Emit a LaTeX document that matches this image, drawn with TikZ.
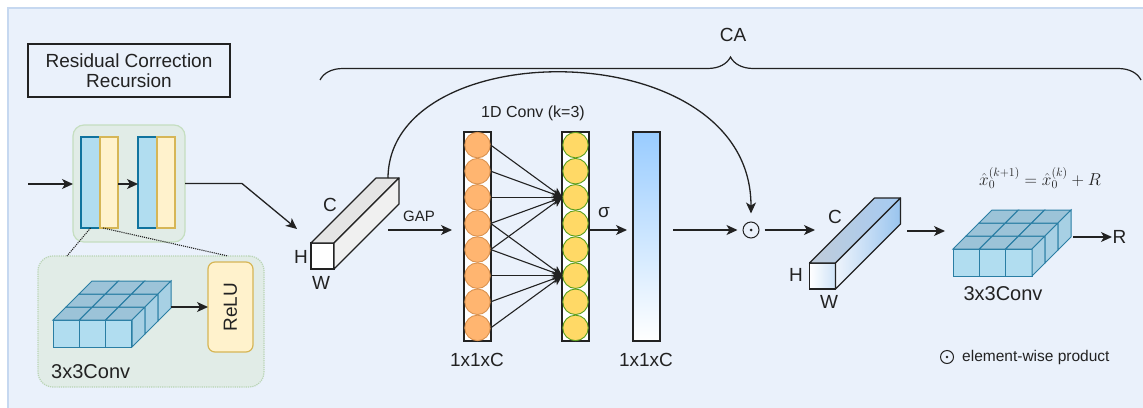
\documentclass[tikz,border=0pt]{standalone}
\usepackage{fontspec}
\setmainfont{Liberation Sans}
\usetikzlibrary{arrows.meta,decorations.pathreplacing,shapes.geometric}
\definecolor{bg}{HTML}{EAF1FB}
\definecolor{bgline}{HTML}{C6D8F0}
\definecolor{grnfill}{HTML}{E1ECE7}
\definecolor{grnline}{HTML}{C5DEC0}
\definecolor{grndot}{HTML}{B9D4B4}
\definecolor{bluefill}{HTML}{B1DDF0}
\definecolor{blueline}{HTML}{10739E}
\definecolor{yelfill}{HTML}{FFF2CC}
\definecolor{yelline}{HTML}{D6B656}
\definecolor{cubtop}{HTML}{9CC3D8}
\definecolor{cubright}{HTML}{A7D0E4}
\definecolor{cubline}{HTML}{2A7EA4}
\definecolor{orfill}{HTML}{FFB570}
\definecolor{orline}{HTML}{D99250}
\definecolor{ylfill}{HTML}{FFD966}
\definecolor{ylline}{HTML}{5A9E1E}
\definecolor{ink}{HTML}{222222}
\definecolor{barblue}{HTML}{99CCFF}
\definecolor{grey1}{HTML}{E4E4E4}
\definecolor{grey2}{HTML}{F0F0F0}
\definecolor{cubgr}{HTML}{CFE3F7}
\definecolor{topg1}{HTML}{C0CCDA}
\definecolor{topg2}{HTML}{A5CBF2}
\definecolor{rg1}{HTML}{EEF4FC}
\definecolor{rg2}{HTML}{99C4EE}
\tikzset{
  arr/.style={-{Stealth[length=11pt,width=10pt,inset=3pt]}, line width=1.3pt, draw=ink},
  carr/.style={-{Stealth[length=10pt,width=9pt,inset=2.5pt]}, line width=1.1pt, draw=ink},
  fs/.style={font=\fontsize{#1}{#1}\selectfont, text=ink},
  lbl/.style={inner sep=0pt, fs=19},
  convblk/.pic={
    \foreach \i in {0,1,2} {
      \draw[cubline, fill=bluefill, line width=1pt] ({\i*26.33},0) rectangle ({(\i+1)*26.33},-27);
    }
    \foreach \r in {0,1,2} {
      \foreach \c in {0,1,2} {
        \draw[cubline, fill=cubtop, line width=1pt]
          ({\c*26.33+\r*13},{-27-\r*13}) -- ({(\c+1)*26.33+\r*13},{-27-\r*13})
          -- ({(\c+1)*26.33+(\r+1)*13},{-27-(\r+1)*13}) -- ({\c*26.33+(\r+1)*13},{-27-(\r+1)*13}) -- cycle;
      }
      \draw[cubline, fill=cubright, line width=1pt]
        ({79+\r*13},{-\r*13}) -- ({79+\r*13},{-27-\r*13})
        -- ({79+(\r+1)*13},{-27-(\r+1)*13}) -- ({79+(\r+1)*13},{-(\r+1)*13}) -- cycle;
    }
  }
}
\begin{document}
\begin{tikzpicture}[x=1pt,y=-1pt]
\useasboundingbox (0,0) rectangle (1143,407);
\clip (0,0) rectangle (1143,407);
\fill[white] (0,0) rectangle (1143,407);
\draw[bgline, fill=bg, line width=1.5pt] (8,8) rectangle (1160,420);

% Title box
\node[draw=ink, line width=1.2pt, minimum width=202pt, minimum height=53pt, align=center, fs=19, outer sep=0pt] (title) at (129,70.5) {Residual Correction\\[1pt]Recursion};

% residual block
\node[draw=grnline, fill=grnfill, rounded corners=11pt, line width=1.2pt, minimum width=112pt, minimum height=117pt, outer sep=0pt] (box1) at (129,183.5) {};
\node[draw=blueline, fill=bluefill, line width=1.1pt, minimum width=19pt, minimum height=91pt, inner sep=0, outer sep=0pt] (b1) at (90.5,182.5) {};
\node[draw=yelline, fill=yelfill, line width=1.1pt, minimum width=18pt, minimum height=91pt, inner sep=0, outer sep=0pt] (c1) at (109,182.5) {};
\node[draw=blueline, fill=bluefill, line width=1.1pt, minimum width=19pt, minimum height=91pt, inner sep=0, outer sep=0pt] (b2) at (147.5,182.5) {};
\node[draw=yelline, fill=yelfill, line width=1.1pt, minimum width=18pt, minimum height=91pt, inner sep=0, outer sep=0pt] (c2) at (166,182.5) {};
\coordinate (in) at (28,184);
\draw[arr] (in) -- (box1.west |- in);
\draw[arr] (c1.east |- in) -- (b2.west |- in);

% zoom box
\node[draw=grndot, fill=grnfill, densely dotted, rounded corners=15pt, line width=1.2pt, minimum width=226pt, minimum height=131pt, outer sep=0pt] (box2) at (151,321.5) {};
\coordinate (z1) at (67,256);
\coordinate (z2) at (228,256);
\draw[ink, densely dotted, line width=1.1pt] (b1.south) -- (z1);
\draw[ink, densely dotted, line width=1.1pt] ([xshift=3pt]c1.south west) -- (z2);
\pic at (53,347) {convblk};
\coordinate (conv1out) at (171,307);
\node[draw=yelline, fill=yelfill, rounded corners=7pt, line width=1.2pt, rotate=90, minimum width=90pt, minimum height=45pt, fs=19, outer sep=0pt] (relu) at (230.5,307) {ReLU};
\draw[arr] (conv1out) -- (relu.north);
\node[anchor=west, fs=20, inner sep=0pt] (lbl3a) at (51,372) {3x3Conv};

% cuboid A
\node[draw=ink, fill=white, line width=1.2pt, minimum width=23pt, minimum height=26pt, inner sep=0, outer sep=0pt] (cubA) at (322.5,256) {};
\draw[ink, fill=grey1, line width=1.2pt, line join=round] (cubA.north west) -- (cubA.north east) -- ++(65,-65) -- ++(-23,0) -- cycle;
\draw[ink, fill=grey2, line width=1.2pt, line join=round] (cubA.north east) -- ++(65,-65) -- ++(0,26) -- (cubA.south east) -- cycle;
\node[lbl] at (330,205) {C};
\node[lbl] at (301,257) {H};
\node[lbl] at (321,283) {W};
\coordinate (cubAin) at (297,229);
\draw[arr] (box1.east) -- (242,183.5) -- (cubAin);
\coordinate (cubAtop) at ([xshift=77pt,yshift=65pt]cubA.north west);

% GAP
\node[draw=ink, fill=white, line width=1.2pt, minimum width=27pt, minimum height=209pt, inner sep=0, outer sep=0pt] (orcol) at (477.5,236.5) {};
\node[draw=ink, fill=white, line width=1.2pt, minimum width=27pt, minimum height=209pt, inner sep=0, outer sep=0pt] (ylcol) at (575.5,236.5) {};
\foreach \i in {1,...,8} {
  \node[circle, draw=orline, fill=orfill, minimum size=25.5pt, inner sep=0, line width=0.9pt] (o\i) at (477.5,{132+13.06+26.12*(\i-1)}) {};
  \node[circle, draw=ylline, fill=ylfill, minimum size=25.5pt, inner sep=0, line width=0.9pt] (y\i) at (575.5,{132+13.06+26.12*(\i-1)}) {};
}
\foreach \i in {1,...,5} { \draw[carr] (o\i.east) -- (y3.west); }
\foreach \i in {4,...,8} { \draw[carr] (o\i.east) -- (y6.west); }
\coordinate (gapS) at (388,230);
\draw[arr, shorten >=12pt] (gapS) -- (orcol.west |- gapS);
\node[inner sep=0, fs=15] at (419,216) {GAP};
\node[inner sep=0, fs=16] at (533,113) {1D Conv (k=3)};
\node[inner sep=0, fs=19] at (477,360) {1x1xC};

% sigma + bar
\node[draw=ink, top color=barblue, bottom color=white, line width=1.2pt, minimum width=27pt, minimum height=209pt, inner sep=0, outer sep=0pt] (bar) at (646.5,236.5) {};
\draw[arr, shorten >=6pt] (ylcol.east |- gapS) -- (bar.west |- gapS);
\node[inner sep=0, fs=19] at (604,213) {σ};
\node[inner sep=0, fs=19] at (646,360) {1x1xC};

% product
\node[circle, draw=ink, minimum size=16pt, inner sep=0, line width=1pt] (odot) at (751,230) {};
\fill[ink] (odot.center) circle (1.5pt);
\draw[arr, shorten >=5pt] ([xshift=13pt]bar.east |- gapS) -- (odot.west);
\draw[arr, shorten >=8pt] (cubAtop) .. controls (389,32) and (751,32) .. (odot.north);

% cuboid B
\node[draw=ink, left color=white, right color=cubgr, line width=1.2pt, minimum width=26pt, minimum height=26pt, inner sep=0, outer sep=0pt] (cubB) at (822.5,276) {};
\path[draw=ink, left color=topg1, right color=topg2, line width=1.2pt, line join=round] (cubB.north west) -- (cubB.north east) -- ++(65,-65) -- ++(-26,0) -- cycle;
\path[draw=ink, left color=rg1, right color=rg2, line width=1.2pt, line join=round] (cubB.north east) -- ++(65,-65) -- ++(0,26) -- (cubB.south east) -- cycle;
\node[lbl] at (835,217) {C};
\node[lbl] at (796,275) {H};
\node[lbl] at (829,302) {W};
\coordinate (cubBin) at (815,230);
\draw[arr, shorten <=5pt] (odot.east) -- (cubBin);

% conv 2
\coordinate (cubBout) at (907,231);
\coordinate (conv2in) at (945,231);
\draw[arr] (cubBout) -- (conv2in);
\pic at (953,276) {convblk};
\node[inner sep=0, fs=20] at (1003,294) {3x3Conv};
\coordinate (conv2out) at (1073,237);
\node[anchor=west, inner sep=0.5pt, fs=19] (R) at (1112,237) {R};
\draw[arr] (conv2out) -- (R.west);
\node[inner sep=0, text=ink] at (1040,178) {\fontsize{17.5}{20}\selectfont $\hat{x}_0^{(k+1)}=\hat{x}_0^{(k)}+R$};

% legend
\node[circle, draw=ink, minimum size=13pt, inner sep=0, line width=1pt] (lgd) at (947,357) {};
\fill[ink] (lgd.center) circle (1.3pt);
\node[anchor=west, inner sep=0, fs=15.5] at (962,357) {element-wise product};

% CA brace
\draw[decorate, decoration={brace, amplitude=23pt}, line width=1.2pt, ink] (320,80) -- (1141,80);
\node[inner sep=0, fs=19] at (733,35) {CA};
\end{tikzpicture}
\end{document}
